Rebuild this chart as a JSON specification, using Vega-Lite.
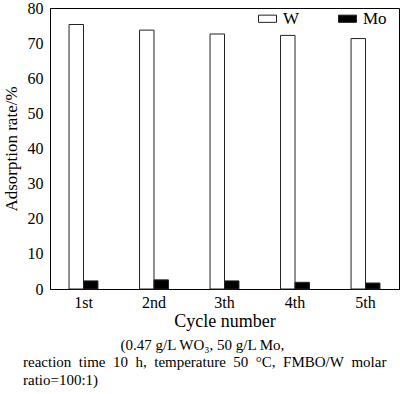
{
  "$schema": "https://vega.github.io/schema/vega-lite/v6.json",
  "width": 349,
  "height": 281,
  "autosize": {"type": "none"},
  "padding": {"left": 50, "top": 8, "right": 1, "bottom": 105},
  "background": "white",
  "data": {
    "values": [
      {"cycle": "1st", "metal": "W", "rate": 75.3},
      {"cycle": "1st", "metal": "Mo", "rate": 2.3},
      {"cycle": "2nd", "metal": "W", "rate": 73.7},
      {"cycle": "2nd", "metal": "Mo", "rate": 2.6},
      {"cycle": "3th", "metal": "W", "rate": 72.6},
      {"cycle": "3th", "metal": "Mo", "rate": 2.3},
      {"cycle": "4th", "metal": "W", "rate": 72.2},
      {"cycle": "4th", "metal": "Mo", "rate": 1.9},
      {"cycle": "5th", "metal": "W", "rate": 71.3},
      {"cycle": "5th", "metal": "Mo", "rate": 1.7}
    ]
  },
  "title": {
    "text": "\u200b\u00a0\u00a0\u00a0\u00a0\u00a0\u00a0\u00a0\u00a0\u00a0\u00a0\u00a0\u00a0\u00a0\u00a0\u00a0\u00a0\u00a0\u00a0\u00a0\u00a0\u00a0\u00a0\u00a0\u00a0\u00a0\u00a0(0.47 g/L WO₃, 50 g/L Mo,",
    "subtitle": ["reaction\u00a0\u00a0time\u00a0\u00a010\u00a0\u00a0h,\u00a0\u00a0temperature\u00a0\u00a050\u00a0\u00a0°C,\u00a0\u00a0FMBO/W\u00a0\u00a0molar", "ratio=100:1)"],
    "orient": "bottom",
    "anchor": "start",
    "frame": "group",
    "dx": -27,
    "offset": 8,
    "font": "Liberation Serif",
    "fontSize": 15,
    "fontWeight": "normal",
    "color": "black",
    "subtitleFont": "Liberation Serif",
    "subtitleFontSize": 15,
    "subtitleColor": "black",
    "subtitlePadding": 2,
    "subtitleLineHeight": 18
  },
  "config": {
    "view": {"stroke": "black", "strokeWidth": 1},
    "axis": {
      "labelFont": "Liberation Serif",
      "titleFont": "Liberation Serif",
      "labelColor": "black",
      "titleColor": "black",
      "titleFontWeight": "normal",
      "domainColor": "black",
      "grid": false,
      "ticks": false
    }
  },
  "mark": {"type": "bar", "stroke": "#222", "strokeWidth": 1},
  "encoding": {
    "x": {
      "field": "cycle",
      "type": "nominal",
      "sort": null,
      "scale": {"paddingInner": 0.59, "paddingOuter": 0.27},
      "axis": {
        "title": "Cycle number",
        "labelAngle": 0,
        "labelFontSize": 16,
        "titleFontSize": 18,
        "labelPadding": 5,
        "titlePadding": 2
      }
    },
    "xOffset": {"field": "metal", "type": "nominal", "sort": ["W", "Mo"]},
    "y": {
      "field": "rate",
      "type": "quantitative",
      "scale": {"domain": [0, 80]},
      "axis": {
        "title": "Adsorption rate/%",
        "values": [0, 10, 20, 30, 40, 50, 60, 70, 80],
        "labelFontSize": 16,
        "titleFontSize": 17,
        "labelPadding": 7,
        "titlePadding": 7
      }
    },
    "fill": {
      "field": "metal",
      "type": "nominal",
      "sort": ["W", "Mo"],
      "scale": {"domain": ["W", "Mo"], "range": ["white", "black"]},
      "legend": {
        "title": null,
        "orient": "none",
        "legendX": 208,
        "legendY": 1,
        "direction": "horizontal",
        "symbolType": "M-1,-0.4H1V0.4H-1Z",
        "symbolSize": 324,
        "symbolStrokeColor": "#222",
        "symbolStrokeWidth": 1,
        "labelFont": "Liberation Serif",
        "labelFontSize": 17,
        "labelColor": "black",
        "labelOffset": 6,
        "columnPadding": 36
      }
    }
  }
}
